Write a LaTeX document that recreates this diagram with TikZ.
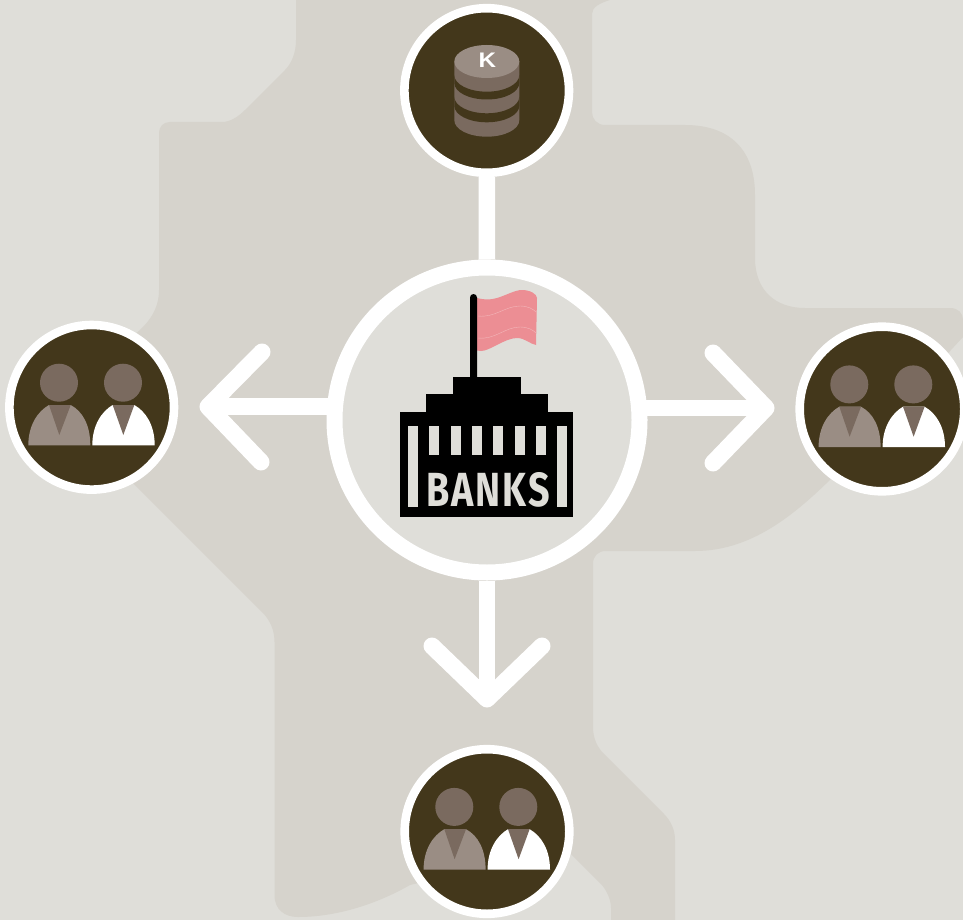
\documentclass[tikz,border=0pt]{standalone}
\usepackage{fontspec}
\usepackage{graphicx}
\setmainfont{Fira Sans}
\newfontfamily\kfont{Liberation Sans}[BoldFont={Liberation Sans Bold}]
\usetikzlibrary{backgrounds}
\definecolor{paleBg}{HTML}{DFDED9}
\definecolor{midBg}{HTML}{D6D3CC}
\definecolor{darkBrown}{HTML}{43371B}
\definecolor{headBrown}{HTML}{7A6A5F}
\definecolor{bodyGrey}{HTML}{9A8D84}
\definecolor{flagPink}{HTML}{EC8E94}
\tikzset{
  x=1pt,y=-1pt,
  hub/.style={circle,draw=white,fill=darkBrown,line width=8.6pt,minimum size=164.6pt,inner sep=0pt},
  centrehub/.style={circle,draw=white,fill=paleBg,line width=16pt,minimum size=305pt,inner sep=0pt},
  link/.style={draw=white,line width=16.5pt},
  chevron/.style={draw=white,line width=17pt,line cap=round,line join=round},
  people/.pic={
    \fill[headBrown] (-32.7,-24.6) circle[radius=19];
    \fill[headBrown] (31.3,-24.6) circle[radius=19];
    \fill[bodyGrey] (-63.4,38) .. controls (-63.4,18) and (-54,4) .. (-42.7,-2.3) -- (-21,-2.3) .. controls (-9,4) and (-1.4,18) .. (-1.4,38) -- cycle;
    \fill[white] (0.6,38) .. controls (0.6,18) and (10,4) .. (21,-2.3) -- (42.6,-2.3) .. controls (54,4) and (63,18) .. (63,38) -- cycle;
    \fill[headBrown] (-42.7,-2.3) -- (-21,-2.3) -- (-32.4,27.7) -- cycle;
    \fill[headBrown] (21,-2.3) -- (42.6,-2.3) -- (31.6,27.7) -- cycle;
  }
}
\begin{document}
\begin{tikzpicture}
\useasboundingbox (0,0) rectangle (963,920);
% nodes
\node[centrehub] (bank) at (487,420) {};
\node[hub] (topN) at (486.7,90.5) {};
\node[hub] (leftN) at (91.7,407.3) {};
\node[hub] (rightN) at (882,409) {};
\node[hub] (bottomN) at (487,831.5) {};
\coordinate (leftTip) at (208,406.7);
\coordinate (leftA) at (262,352);
\coordinate (leftB) at (261,462);
\coordinate (rightTip) at (766,408);
\coordinate (rightA) at (713,353);
\coordinate (rightB) at (713,463);
\coordinate (bottomTip) at (487,699);
\coordinate (bottomA) at (432,646);
\coordinate (bottomB) at (542,646);
\begin{scope}[on background layer]
\fill[paleBg] (0,0) rectangle (963,920);
\fill[midBg] (296,0) -- (296,40) .. controls (296,52) and (292,63) .. (285,70) -- (245,110) .. controls (238,117) and (230,122) .. (222,122)
  -- (170,122) .. controls (163,122) and (159,127) .. (159,133) -- (159,290) .. controls (159,310) and (148,325) .. (130,338)
  -- (130,480) -- (262,612) .. controls (270,620) and (274.5,630) .. (274.5,642) -- (274.5,895) .. controls (274.5,910) and (285,917) .. (298,917)
  .. controls (335,917) and (375,905) .. (410,885) -- (565,848) -- (600,883) .. controls (607,890) and (611,900) .. (611,908) -- (611,920) -- (675,920) -- (675,840)
  .. controls (675,830) and (671,821) .. (664,814) -- (604,754) .. controls (597,747) and (593,738) .. (593,727) -- (593,564) .. controls (593,556) and (598,551) .. (606,551)
  -- (695,551) .. controls (755,551) and (800,510) .. (840,470) -- (963,337) -- (963,320) .. controls (963,313) and (958,308) .. (950,308)
  -- (805,308) .. controls (775,308) and (755,290) .. (755,258) -- (755,195) .. controls (755,150) and (730,125) .. (685,125)
  -- (605,125) .. controls (597,125) and (592,119) .. (592,112) -- (592,14) .. controls (592,7) and (600,3) .. (610,0) -- cycle;
\draw[link] (topN) -- (bank);
\draw[link] (leftTip -| bank.center) -- (leftTip);
\draw[link] (rightTip -| bank.center) -- (rightTip);
\draw[link] (bank) -- (bottomTip);
\draw[chevron] (leftA) -- (leftTip) -- (leftB);
\draw[chevron] (rightA) -- (rightTip) -- (rightB);
\draw[chevron] (bottomA) -- (bottomTip) -- (bottomB);
\end{scope}
\pic at (leftN) {people};
\pic at (rightN) {people};
\pic at (bottomN) {people};
% coins
\fill[headBrown] (454.3,61.5) -- (519.3,61.5) -- (519.3,120.2) arc[start angle=0,end angle=180,x radius=32.5,y radius=16.5] -- cycle;
\fill[darkBrown] (454.3,75.2) arc[start angle=180,end angle=0,x radius=32.5,y radius=16.5] -- (519.3,83) arc[start angle=0,end angle=180,x radius=32.5,y radius=16.5] -- cycle;
\fill[darkBrown] (454.3,96.8) arc[start angle=180,end angle=0,x radius=32.5,y radius=16.5] -- (519.3,105.8) arc[start angle=0,end angle=180,x radius=32.5,y radius=16.5] -- cycle;
\fill[bodyGrey] (486.8,61.5) ellipse[x radius=32.5,y radius=16.5];
\node[inner sep=0pt,text=white] (kLabel) at (487.3,60.3) {\resizebox{17.5pt}{14.5pt}{\kfont\bfseries K}};
% bank
\fill[flagPink] (477,298) .. controls (485,300) and (490,300) .. (497,298) .. controls (507,295) and (515,290) .. (522,290) .. controls (530,290) and (537,294) .. (537,298) -- (536,345) .. controls (530,344) and (525,338) .. (517,338) .. controls (505,338) and (490,351) .. (481,351) -- (477,350.5) -- cycle;
\draw[white!35!flagPink,line width=.4pt] (478,316) .. controls (495,318) and (505,306) .. (520,306) .. controls (528,306) and (533,309) .. (536,312);
\draw[white!35!flagPink,line width=.4pt] (478,338) .. controls (495,340) and (505,327) .. (520,327) .. controls (528,327) and (533,330) .. (536,333);
\fill[black] (470,297.5) arc[start angle=180,end angle=360,radius=3.5] -- (477,380) -- (470,380) -- cycle;
\fill[black] (452.7,376.7) rectangle (520.7,394);
\fill[black] (426,394) rectangle (547.7,412);
\fill[black] (400,412) rectangle (573,516.7);
\fill[paleBg] (408,426) rectangle (418.3,506.7);
\fill[paleBg] (557,426) rectangle (567.3,506.7);
\foreach \xx in {429,451,472,493,515,536}{\fill[paleBg] (\xx,426) rectangle ++(9.7,28.7);}
\node[inner sep=0pt,text=paleBg] (bankLabel) at (488.3,490) {\resizebox{123pt}{34pt}{\addfontfeature{LetterSpace=5}\bfseries BANKS}};
\end{tikzpicture}
\end{document}
